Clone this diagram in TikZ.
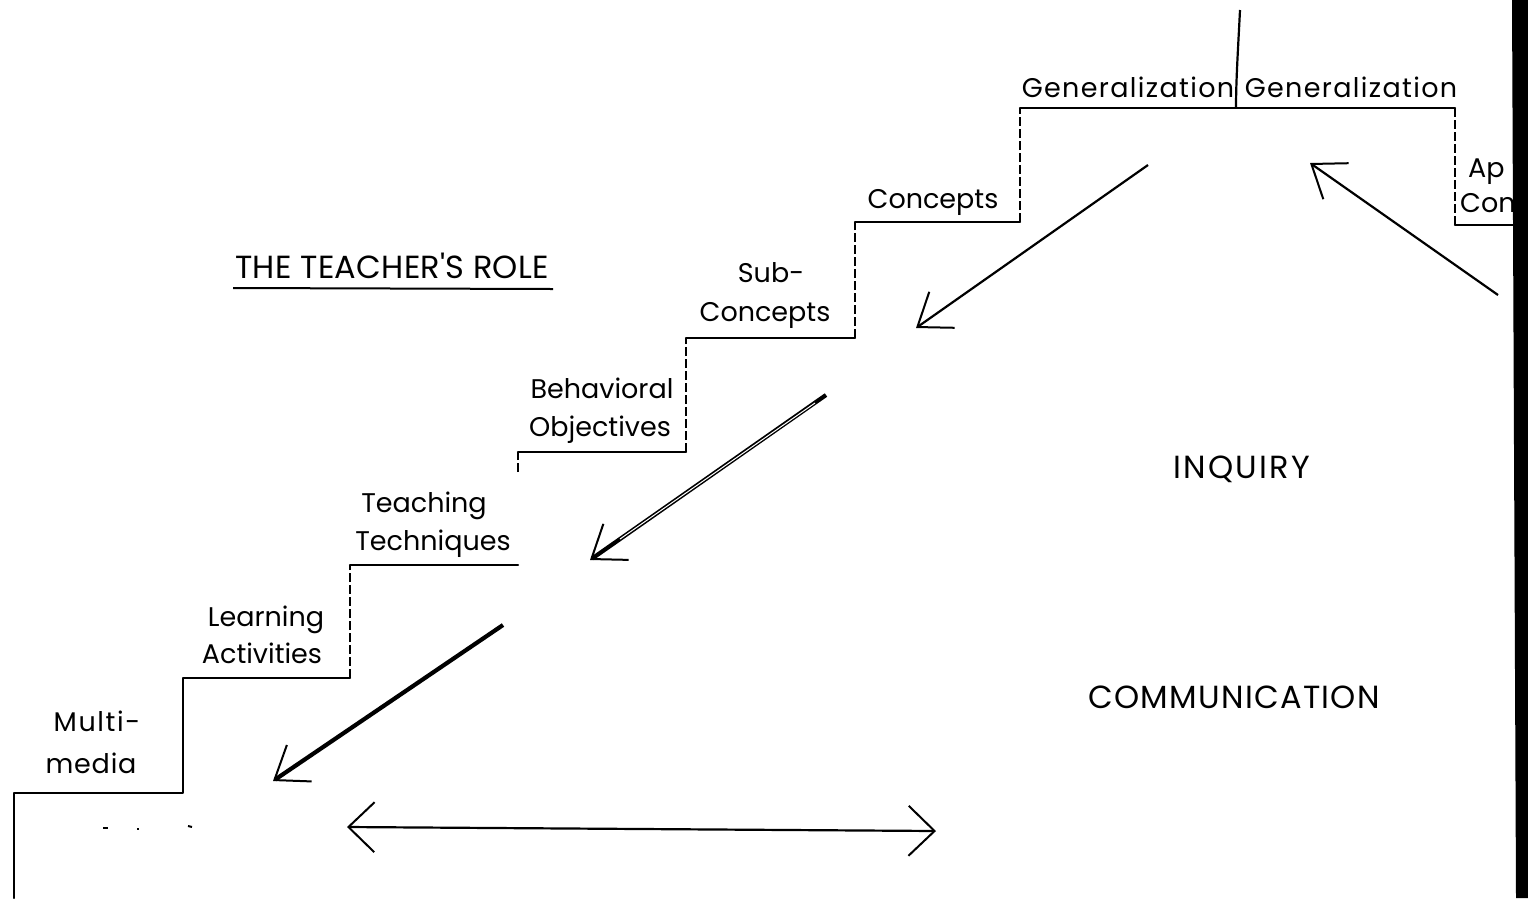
\documentclass[tikz,border=0pt]{standalone}
\usepackage{fontspec}
\setmainfont{Poppins}
\usetikzlibrary{arrows.meta}
\begin{document}
\begin{tikzpicture}[x=1pt,y=-1pt,
  lbl/.style={anchor=base,inner sep=0pt,font=\fontsize{27}{32}\selectfont},
  caps/.style={anchor=base,inner sep=0pt,font=\fontsize{32}{38}\selectfont},
  tread/.style={line width=2.4pt,line cap=round,line join=round},
  riser/.style={line width=1.5pt,dash pattern=on 9pt off 3pt},
  ptr/.style={line width=2.2pt,-{Straight Barb[length=30pt,width=44pt,line width=2pt]}},
  fatptr/.style={line width=4.2pt,-{Straight Barb[length=30pt,width=44pt,line width=2pt]}},
  dptr/.style={line width=2.2pt,{Straight Barb[length=26pt,width=50pt,line width=2pt]}-{Straight Barb[length=26pt,width=50pt,line width=2pt]}}]
\useasboundingbox (0,0) rectangle (1528,898);
\fill[white] (0,0) rectangle (1528,898);
% staircase
\draw[tread] (14,898) -- (14,793) -- (183,793) -- (183,678) -- (350,678);
\draw[riser] (350,678) -- (350,565);
\draw[tread] (350,565) -- (518,565);
\draw[riser] (518,472) -- (518,452);
\draw[tread] (518,452) -- (686,452);
\draw[riser] (686,452) -- (686,338);
\draw[tread] (686,338) -- (855,338);
\draw[riser] (855,338) -- (855,222);
\draw[tread] (855,222) -- (1020,222);
\draw[riser] (1020,222) -- (1020,108);
\draw[tread] (1020,108) -- (1455,108);
\draw[riser] (1455,108) -- (1455,225);
\draw[tread] (1455,225) -- (1514,225);
\draw[line width=2.2pt] (1240,10) .. controls (1238,50) and (1236,80) .. (1236,108);
% labels
\node[lbl] (g1) at (1128,97) {\addfontfeature{LetterSpace=5}Generalization};
\node[lbl] (g2) at (1351,97) {\addfontfeature{LetterSpace=5}Generalization};
\node[lbl,anchor=base west] (ap) at (1468,177) {Ap};
\node[lbl,anchor=base west] (co) at (1460,212) {Con};
\node[lbl] (c1) at (933,208) {Concepts};
\node[lbl] (sub) at (771,282) {Sub-};
\node[lbl] (c2) at (765,321) {Concepts};
\node[lbl] (beh) at (602,398) {Behavioral};
\node[lbl] (obj) at (600,436) {Objectives};
\node[lbl] (tea) at (424,512) {Teaching};
\node[lbl] (tec) at (433,550) {Techniques};
\node[lbl] (lea) at (266,626) {Learning};
\node[lbl] (act) at (262,663) {Activities};
\node[lbl] (mul) at (97,731) {\addfontfeature{LetterSpace=6}Multi-};
\node[lbl] (med) at (91,773) {\addfontfeature{LetterSpace=3}media};
\node[caps] (role) at (392,278) {\addfontfeature{LetterSpace=1}THE TEACHER\textquotesingle S ROLE};
\draw[line width=2pt] (233,288) -- (553,289);
\node[caps] (inq) at (1242,478) {\addfontfeature{LetterSpace=7}INQUIRY};
\node[caps] (com) at (1234,708) {\addfontfeature{LetterSpace=4}COMMUNICATION};
% arrows
\coordinate (a1s) at (1148,165); \coordinate (a1e) at (916,328);
\coordinate (a2s) at (1498,295); \coordinate (a2e) at (1310,163);
\coordinate (a3s) at (826,395);  \coordinate (a3e) at (590,560);
\coordinate (a4s) at (503,625);  \coordinate (a4e) at (273,781);
\coordinate (d1) at (347,827);   \coordinate (d2) at (936,831);
\draw[ptr] (a1s) -- (a1e);
\draw[ptr] (a2s) -- (a2e);
\draw[fatptr] (a3s) -- (a3e);
\draw[white,line width=1pt] (815,403) -- (620,539);
\draw[fatptr] (a4s) -- (a4e);
\draw[dptr] (d1) -- (d2);
% specks
\draw[line width=2pt] (103,828) -- (108,828);
\draw[line width=2pt] (137,829) -- (139,829);
\draw[line width=2pt] (188,826) -- (192,827);
% scan edge
\fill[black] (1512,0) -- (1528,0) -- (1528,898) -- (1516,898) -- cycle;
\end{tikzpicture}
\end{document}
